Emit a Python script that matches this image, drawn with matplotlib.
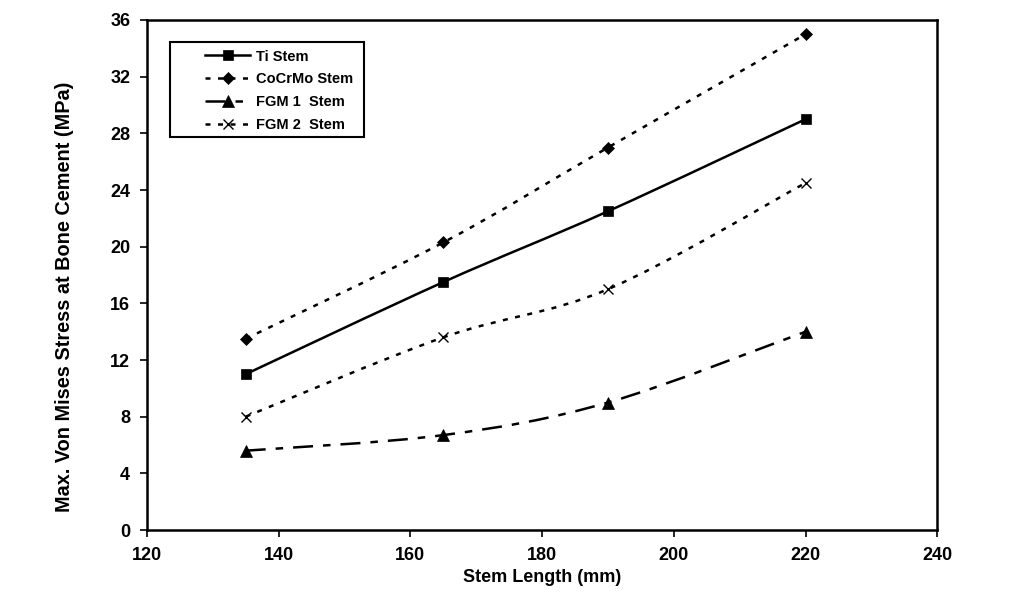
import matplotlib.pyplot as plt
import numpy as np
from matplotlib.path import Path
from matplotlib.patches import PathPatch, Rectangle
from matplotlib.lines import Line2D

stem_length = [135, 165, 190, 220]
ti_stem = [11.0, 17.5, 22.5, 29.0]
cocrmo_stem = [13.5, 20.3, 27.0, 35.0]
fgm1_stem = [5.6, 6.7, 9.0, 14.0]
fgm2_stem = [8.0, 13.6, 17.0, 24.5]

series = [
    ('Ti Stem', ti_stem, 's', '-', 7),
    ('CoCrMo Stem', cocrmo_stem, 'D', (0, (2, 3)), 6),
    ('FGM 1  Stem', fgm1_stem, '^', (0, (8, 4, 3, 4)), 8),
    ('FGM 2  Stem', fgm2_stem, 'x', (0, (2, 3)), 7),
]

plt.rcParams['font.family'] = ['Liberation Sans', 'DejaVu Sans']
plt.rcParams['font.weight'] = 'bold'


def smooth_path(x, y):
    # excel-style smoothed line: bezier segments through the points
    pts = np.column_stack([x, y]).astype(float)
    n = len(pts)
    verts = [pts[0]]
    codes = [Path.MOVETO]
    for i in range(n - 1):
        p0 = pts[i - 1] if i > 0 else pts[i]
        p1 = pts[i]
        p2 = pts[i + 1]
        p3 = pts[i + 2] if i + 2 < n else pts[i + 1]
        c1 = p1 + (p2 - p0) / 6.0
        c2 = p2 - (p3 - p1) / 6.0
        verts += [c1, c2, p2]
        codes += [Path.CURVE4] * 3
    return Path(verts, codes)


fig = plt.figure(figsize=(10.2, 6.06), dpi=100)
ax = fig.add_axes([0.144, 0.1254, 0.775, 0.8416])

handles = []
for name, vals, mk, ls, ms in series:
    patch = PathPatch(smooth_path(stem_length, vals), facecolor='none',
                      edgecolor='black', lw=1.8, linestyle=ls)
    ax.add_patch(patch)
    mew = 1 if mk == 'x' else 0.5
    ax.plot(stem_length, vals, linestyle='none', marker=mk, color='black',
            markersize=ms, markeredgewidth=mew)
    handles.append(Line2D([], [], color='black', lw=1.8, linestyle=ls,
                          marker=mk, markersize=ms, markeredgewidth=mew))

ax.set_xlim(120, 240)
ax.set_ylim(0, 36)
ax.set_xticks(np.arange(120, 241, 20))
ax.set_yticks(np.arange(0, 37, 4))
ax.tick_params(direction='out', length=5, width=1.2, labelsize=13, pad=7)
for s in ax.spines.values():
    s.set_linewidth(1.8)

ax.set_xlabel('Stem Length (mm)', fontsize=13, fontweight='bold', labelpad=4)
ax.set_ylabel('Max. Von Mises Stress at Bone Cement (MPa)', fontsize=14.3,
              fontweight='bold')
ax.yaxis.set_label_coords(-0.092, 0.457)

leg = ax.legend(handles, [s[0] for s in series], loc='upper left',
                bbox_to_anchor=(0.0734, 0.942), frameon=False,
                handlelength=3.1, handletextpad=0.4, numpoints=1,
                borderpad=0, borderaxespad=0, labelspacing=0.6,
                prop={'weight': 'bold', 'size': 10.5})
# legend box drawn separately, it has a wide left margin
ax.add_patch(Rectangle((0.029, 0.7706), 0.2456, 0.186, transform=ax.transAxes,
                       facecolor='none', edgecolor='black', lw=1.5, zorder=5))

fig.savefig('out.png', dpi=100)
